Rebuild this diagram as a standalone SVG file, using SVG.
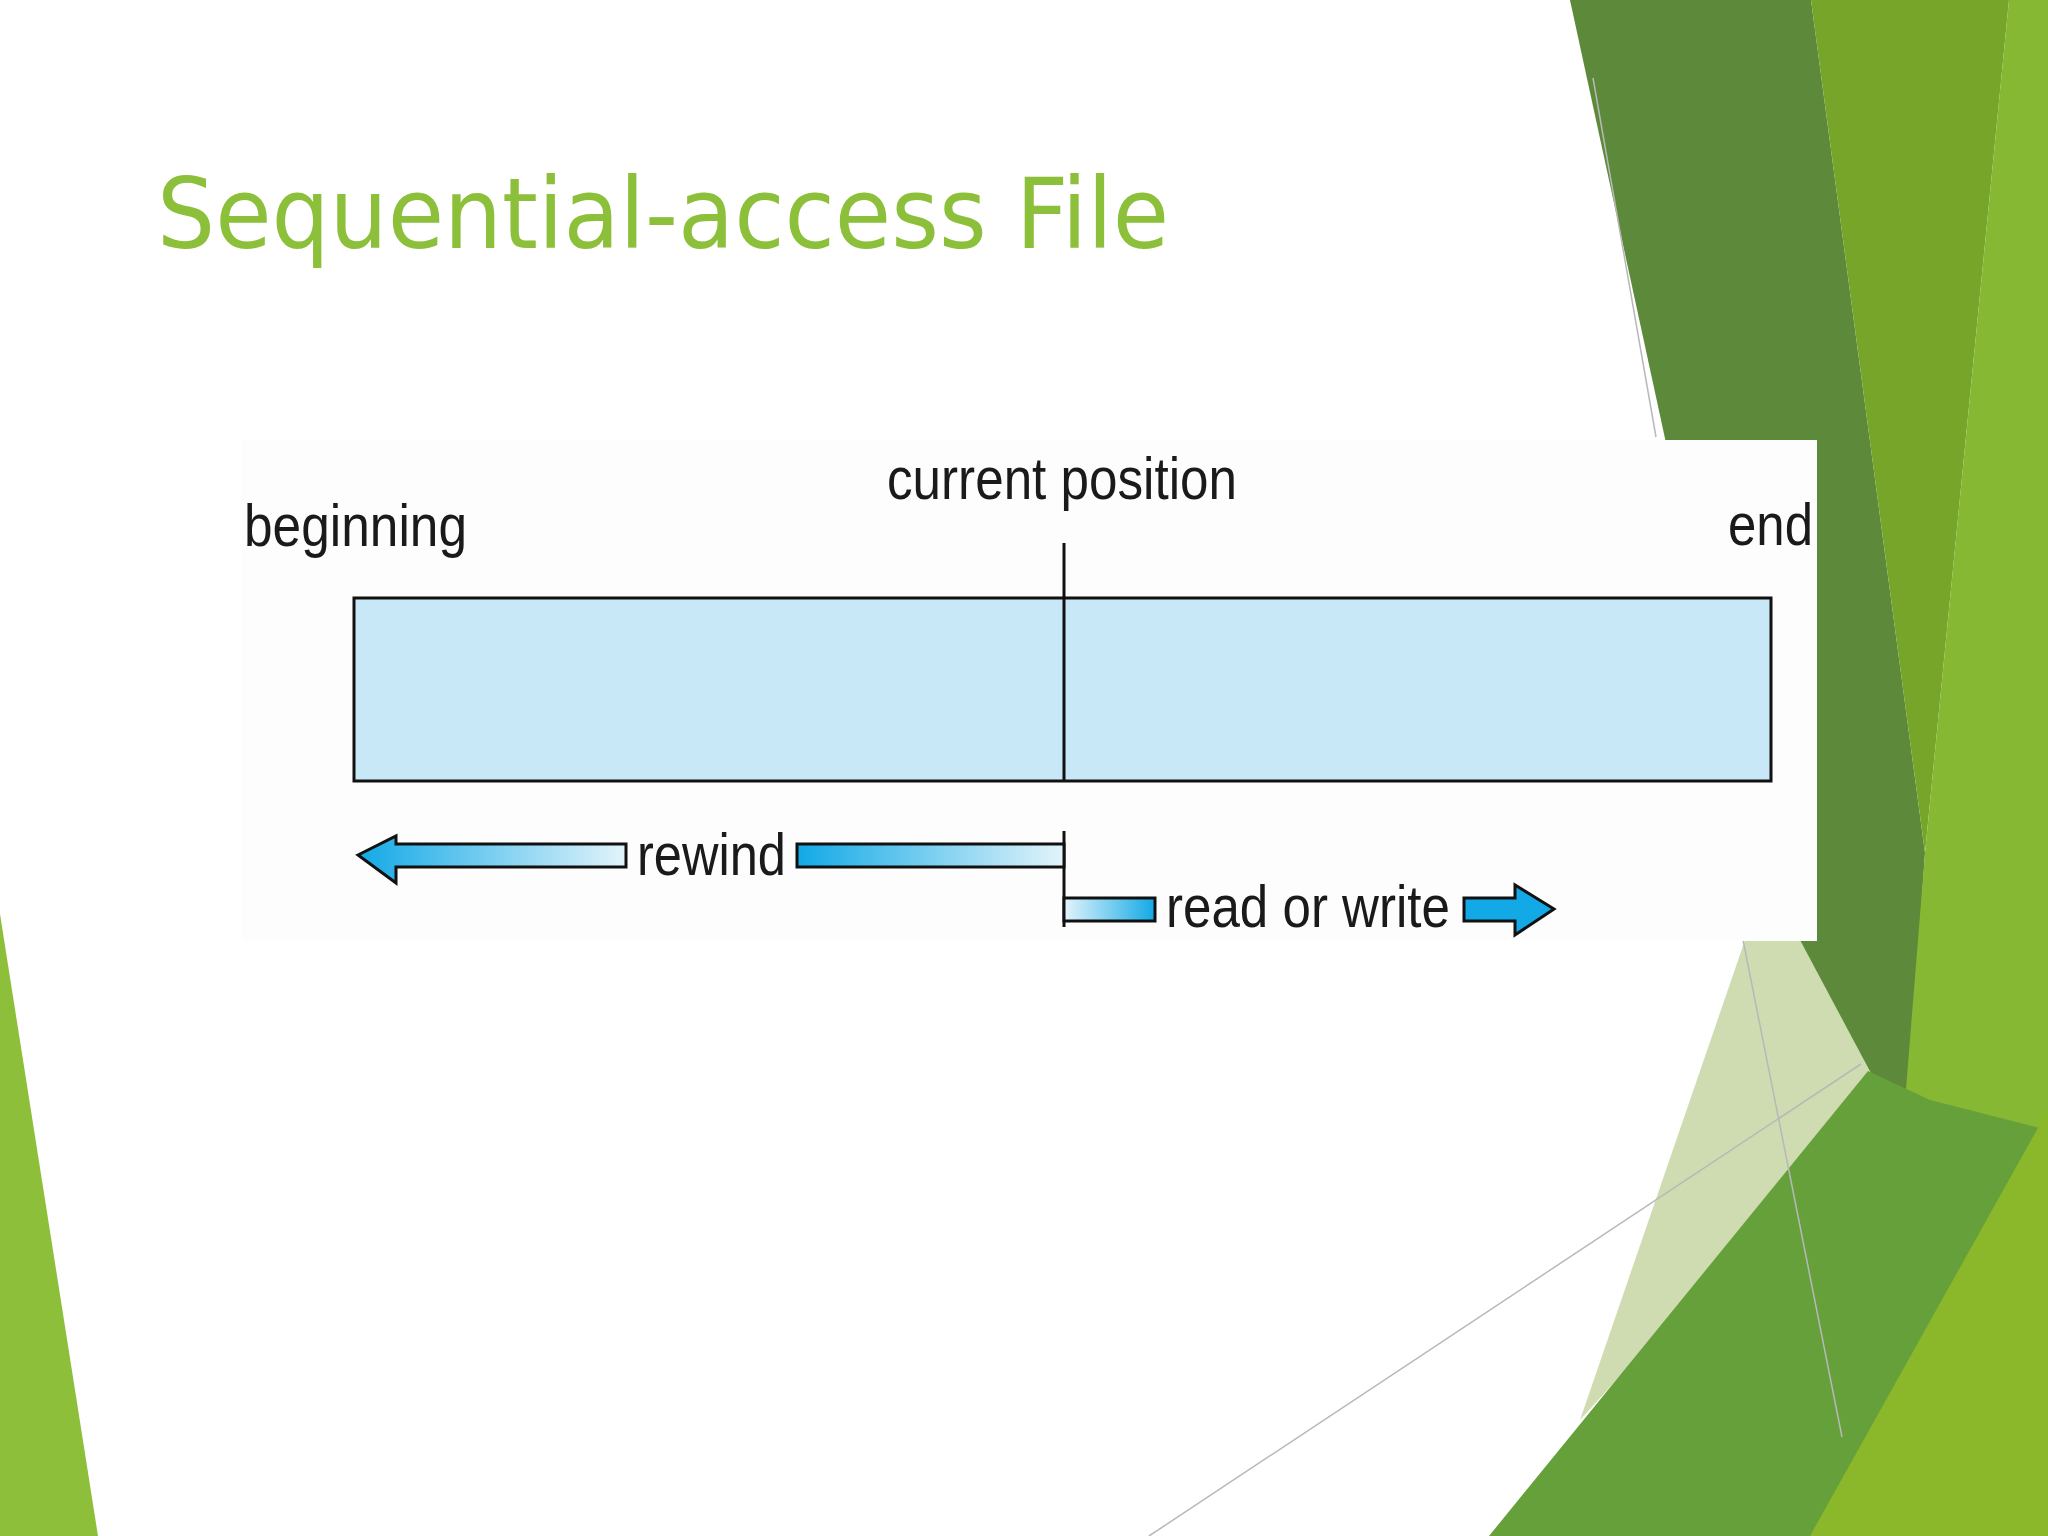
<svg xmlns="http://www.w3.org/2000/svg" width="2048" height="1536" viewBox="0 0 2048 1536">
<defs>
<linearGradient id="gL" x1="0" x2="1" y1="0" y2="0"><stop offset="0" stop-color="#12a9e6"/><stop offset="1" stop-color="#e3f4fb"/></linearGradient>
<linearGradient id="gR" x1="0" x2="1" y1="0" y2="0"><stop offset="0" stop-color="#e3f4fb"/><stop offset="1" stop-color="#12a9e6"/></linearGradient>
<style>
.lbl{font-family:"Liberation Sans",Arial,sans-serif;font-size:60px;fill:#1a1a1a}
.ln{stroke:#111;stroke-width:3;fill:none}
.gray{stroke:#b8b8b8;stroke-width:1.5;fill:none}
</style>
</defs>
<rect width="2048" height="1536" fill="#ffffff"/>
<g id="background">
<polygon points="0,914 98,1536 0,1536" fill="#8dbf3a"/>
<polygon points="1570,0 1811,0 1925,853 1905,1150 1800,1060 1700,600" fill="#5c8a3a"/>
<polygon points="1811,0 2009,0 1925,853" fill="#76a52a"/>
<polygon points="2009,0 2048,0 2048,1536 1870,1536 1925,853" fill="#86b833"/>
<polygon points="1580,1420 1745,940 1800,940 1880,1090" fill="#cfdcb2"/>
<polygon points="1489,1536 1868,1071 1930,1100 2048,1130 2048,1536" fill="#66a03a"/>
<polygon points="1810,1536 2048,1110 2048,1536" fill="#8ab82a"/>
<line class="gray" x1="1593" y1="78" x2="1656" y2="437"/>
<line class="gray" x1="1149" y1="1536" x2="1861" y2="1064"/>
<line class="gray" x1="1743" y1="940" x2="1842" y2="1437"/>
</g>
<text x="157" y="248" font-family="DejaVu Sans, sans-serif" font-size="98" fill="#8cc03a" textLength="1012" lengthAdjust="spacingAndGlyphs">Sequential-access File</text>
<g id="panel">
<rect x="242" y="440" width="1575" height="501" fill="#fdfdfd"/>
</g>
<g id="file">
<rect x="354" y="598" width="1417" height="183" fill="#c8e8f7" stroke="#111" stroke-width="3"/>
</g>
<g id="labels">
<text class="lbl" x="244" y="546" textLength="223" lengthAdjust="spacingAndGlyphs">beginning</text>
<text class="lbl" x="887" y="499" textLength="350" lengthAdjust="spacingAndGlyphs">current position</text>
<text class="lbl" x="1728" y="545" textLength="85" lengthAdjust="spacingAndGlyphs">end</text>
<text class="lbl" x="637" y="875" textLength="149" lengthAdjust="spacingAndGlyphs">rewind</text>
<text class="lbl" x="1166" y="927" textLength="284" lengthAdjust="spacingAndGlyphs">read or write</text>
</g>
<g id="connectors">
<line class="ln" x1="1064" y1="543" x2="1064" y2="781"/>
<line class="ln" x1="1064" y1="831" x2="1064" y2="927"/>
<polygon points="358,855 396,836 396,844 626,844 626,867 396,867 396,883" fill="url(#gL)" stroke="#111" stroke-width="3"/>
<rect x="797" y="844" width="267" height="23" fill="url(#gL)" stroke="#111" stroke-width="3"/>
<rect x="1064" y="898" width="91" height="23" fill="url(#gR)" stroke="#111" stroke-width="3"/>
<polygon points="1464,898 1515,898 1515,885 1554,909 1515,935 1515,921 1464,921" fill="#12a9e6" stroke="#111" stroke-width="3"/>
</g>
</svg>
